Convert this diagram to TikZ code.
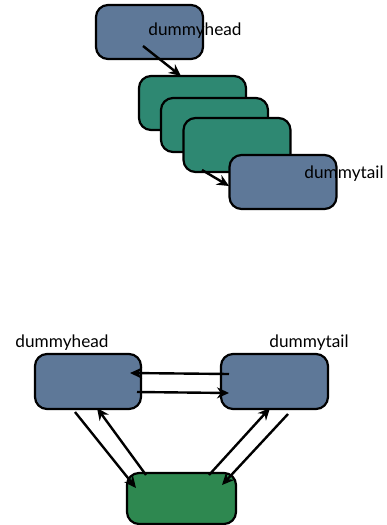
\documentclass[tikz,border=0pt]{standalone}
\usepackage{fontspec}
\setmainfont{Lato}
\usetikzlibrary{arrows.meta}
\definecolor{bluegray}{HTML}{5E7898}
\definecolor{teal}{HTML}{2E8872}
\definecolor{grn}{HTML}{2E8850}
\begin{document}
\begin{tikzpicture}[x=1pt,y=-1pt,
  box/.style={draw=black,line width=2.2pt,rounded corners=12pt,inner sep=0pt},
  lbl/.style={font=\fontsize{17.2}{19}\selectfont,inner sep=0pt,text=black},
  arr/.style={line width=2.4pt,-{Stealth[length=12pt,width=11pt]}}]
\useasboundingbox (0,0) rectangle (387,525);
% top section
\node[box,fill=bluegray,minimum width=107pt,minimum height=54pt] (h1) at (149.5,32) {};
\node[lbl] (h1t) at (195,31) {dummyhead};
\node[box,fill=teal,minimum width=107pt,minimum height=54pt] (g1) at (192.5,103) {};
\node[box,fill=teal,minimum width=107pt,minimum height=54pt] (g2) at (214.5,125) {};
\node[box,fill=teal,minimum width=107pt,minimum height=54pt] (g3) at (237,145) {};
\node[box,fill=bluegray,minimum width=107pt,minimum height=54pt] (t1) at (283,182) {};
\node[lbl] (t1t) at (344,174) {dummytail};
\coordinate (a1) at (143,46);
\coordinate (a1e) at (181,76);
\coordinate (a2) at (202,170);
\coordinate (a2e) at (229,186);
\draw[arr] (a1) -- (a1e);
\draw[arr] (a2) -- (a2e);
% bottom section
\node[box,fill=bluegray,minimum width=106pt,minimum height=55pt] (L) at (88,381.5) {};
\node[box,fill=bluegray,minimum width=107pt,minimum height=55pt] (R) at (274.5,381.5) {};
\node[box,fill=grn,minimum width=109pt,minimum height=51pt] (G) at (181.5,498.5) {};
\node[lbl] (Lt) at (62,343) {dummyhead};
\node[lbl] (Rt) at (309,343) {dummytail};
\coordinate (b1) at (229,374);
\coordinate (b1e) at (130,373);
\coordinate (b2) at (137,392);
\coordinate (b2e) at (229,393);
\coordinate (c1) at (75,412);
\coordinate (c1e) at (136,488);
\coordinate (c2) at (146,475);
\coordinate (c2e) at (97,408);
\coordinate (d1) at (209,475);
\coordinate (d1e) at (270,408);
\coordinate (d2) at (288,414);
\coordinate (d2e) at (222,485);
\draw[arr] (b1) -- (b1e);
\draw[arr] (b2) -- (b2e);
\draw[arr] (c1) -- (c1e);
\draw[arr] (c2) -- (c2e);
\draw[arr] (d1) -- (d1e);
\draw[arr] (d2) -- (d2e);
\end{tikzpicture}
\end{document}
